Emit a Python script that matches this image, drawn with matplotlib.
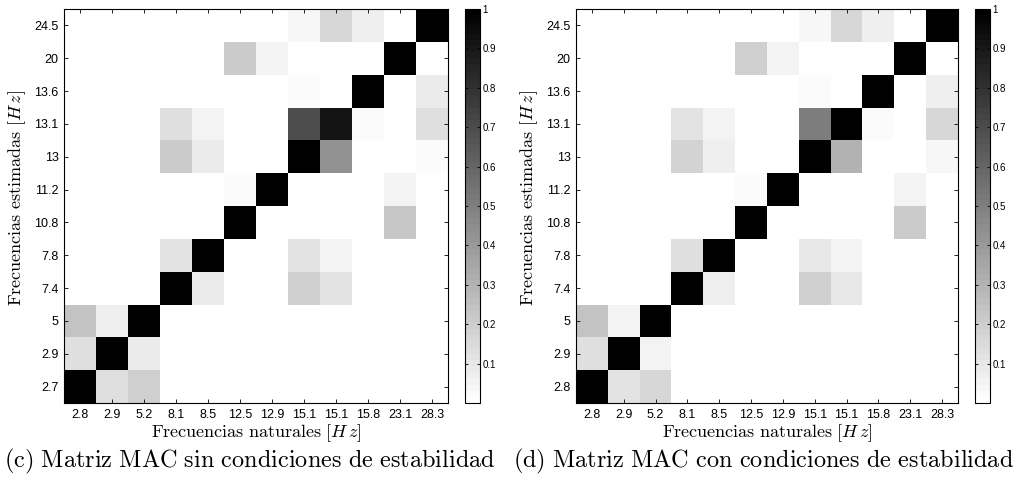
import numpy as np
import matplotlib
matplotlib.use('Agg')
import matplotlib.pyplot as plt
from matplotlib.colors import ListedColormap

plt.rcParams['mathtext.fontset'] = 'cm'
plt.rcParams['font.family'] = ['Liberation Sans', 'DejaVu Sans']

natural = ['2.8', '2.9', '5.2', '8.1', '8.5', '12.5', '12.9', '15.1', '15.1', '15.8', '23.1', '28.3']
estimated_c = ['2.7', '2.9', '5', '7.4', '7.8', '10.8', '11.2', '13', '13.1', '13.6', '20', '24.5']
estimated_d = ['2.8', '2.9', '5', '7.4', '7.8', '10.8', '11.2', '13', '13.1', '13.6', '20', '24.5']

# rows: estimated frequencies (bottom -> top), columns: natural frequencies
mac_c = [
    [1.00, 0.14, 0.20, 0, 0, 0, 0, 0, 0, 0, 0, 0],
    [0.14, 1.00, 0.08, 0, 0, 0, 0, 0, 0, 0, 0, 0],
    [0.24, 0.07, 1.00, 0, 0, 0, 0, 0, 0, 0, 0, 0],
    [0, 0, 0, 1.00, 0.08, 0, 0, 0.20, 0.12, 0, 0, 0],
    [0, 0, 0, 0.12, 1.00, 0, 0, 0.12, 0.06, 0, 0, 0],
    [0, 0, 0, 0, 0, 1.00, 0, 0, 0, 0, 0.22, 0],
    [0, 0, 0, 0, 0, 0.02, 1.00, 0, 0, 0, 0.06, 0],
    [0, 0, 0, 0.21, 0.08, 0, 0, 1.00, 0.43, 0, 0, 0.03],
    [0, 0, 0, 0.14, 0.06, 0, 0, 0.69, 0.92, 0.02, 0, 0.13],
    [0, 0, 0, 0, 0, 0, 0, 0.02, 0, 1.00, 0, 0.08],
    [0, 0, 0, 0, 0, 0.21, 0.06, 0, 0, 0, 1.00, 0],
    [0, 0, 0, 0, 0, 0, 0, 0.04, 0.17, 0.07, 0, 1.00],
]

mac_d = [
    [1.00, 0.12, 0.16, 0, 0, 0, 0, 0, 0, 0, 0, 0],
    [0.14, 1.00, 0.06, 0, 0, 0, 0, 0, 0, 0, 0, 0],
    [0.24, 0.06, 1.00, 0, 0, 0, 0, 0, 0, 0, 0, 0],
    [0, 0, 0, 1.00, 0.07, 0, 0, 0.20, 0.10, 0, 0, 0],
    [0, 0, 0, 0.13, 1.00, 0, 0, 0.10, 0.06, 0, 0, 0],
    [0, 0, 0, 0, 0, 1.00, 0, 0, 0, 0, 0.21, 0],
    [0, 0, 0, 0, 0, 0.02, 1.00, 0, 0, 0, 0.06, 0],
    [0, 0, 0, 0.18, 0.07, 0, 0, 1.00, 0.30, 0, 0, 0.04],
    [0, 0, 0, 0.12, 0.06, 0, 0, 0.50, 1.00, 0.02, 0, 0.16],
    [0, 0, 0, 0, 0, 0, 0, 0.02, 0, 1.00, 0, 0.07],
    [0, 0, 0, 0, 0, 0.20, 0.06, 0, 0, 0, 1.00, 0],
    [0, 0, 0, 0, 0, 0, 0, 0.04, 0.17, 0.07, 0, 1.00],
]

# MATLAB style 64-level gray colormap, flipped
cmap = ListedColormap(plt.cm.gray_r(np.linspace(0, 1, 64)))

W, H = 1026, 486
fig = plt.figure(figsize=(W / 100, H / 100), dpi=100)

panels = [
    (64, 448, 465, mac_c, estimated_c, '(c) Matriz MAC sin condiciones de estabilidad', 4),
    (576, 958, 975, mac_d, estimated_d, '(d) Matriz MAC con condiciones de estabilidad', 513),
]

for x0, x1, cx, mac, est, caption, capx in panels:
    ax = fig.add_axes([x0 / W, (H - 403) / H, (x1 - x0) / W, 394 / H])
    im = ax.imshow(np.array(mac), cmap=cmap, vmin=0, vmax=1, origin='lower',
                   aspect='auto', interpolation='nearest')
    ax.set_xticks(range(len(natural)))
    ax.set_xticklabels(natural, fontsize=9)
    ax.set_yticks(range(len(est)))
    ax.set_yticklabels(est, fontsize=9)
    ax.tick_params(direction='in', length=3, width=0.6, top=True, right=True, pad=4)
    for s in ax.spines.values():
        s.set_linewidth(0.8)
    ax.set_xlabel(r'$\mathrm{Frecuencias\ naturales}\ [H\,z]$', fontsize=13, labelpad=1)
    ax.set_ylabel(r'$\mathrm{Frecuencias\ estimadas}\ [H\,z]$', fontsize=13)
    ax.yaxis.set_label_coords(-0.095, 0.52)

    cax = fig.add_axes([cx / W, (H - 403) / H, 15 / W, 394 / H])
    cb = fig.colorbar(im, cax=cax)
    cb.set_ticks([0.1, 0.2, 0.3, 0.4, 0.5, 0.6, 0.7, 0.8, 0.9, 1])
    cb.set_ticklabels(['0.1', '0.2', '0.3', '0.4', '0.5', '0.6', '0.7', '0.8', '0.9', '1'])
    cax.tick_params(direction='in', length=2, width=0.6, left=True, right=True,
                    labelsize=7, pad=2)
    cb.outline.set_linewidth(0.8)

    fig.text(capx / W, 1 - 461 / H, r'$\mathrm{' + caption.replace(' ', r'\ ') + '}$',
             fontsize=17.5, ha='left', va='center')

fig.savefig('out.png', dpi=100)
